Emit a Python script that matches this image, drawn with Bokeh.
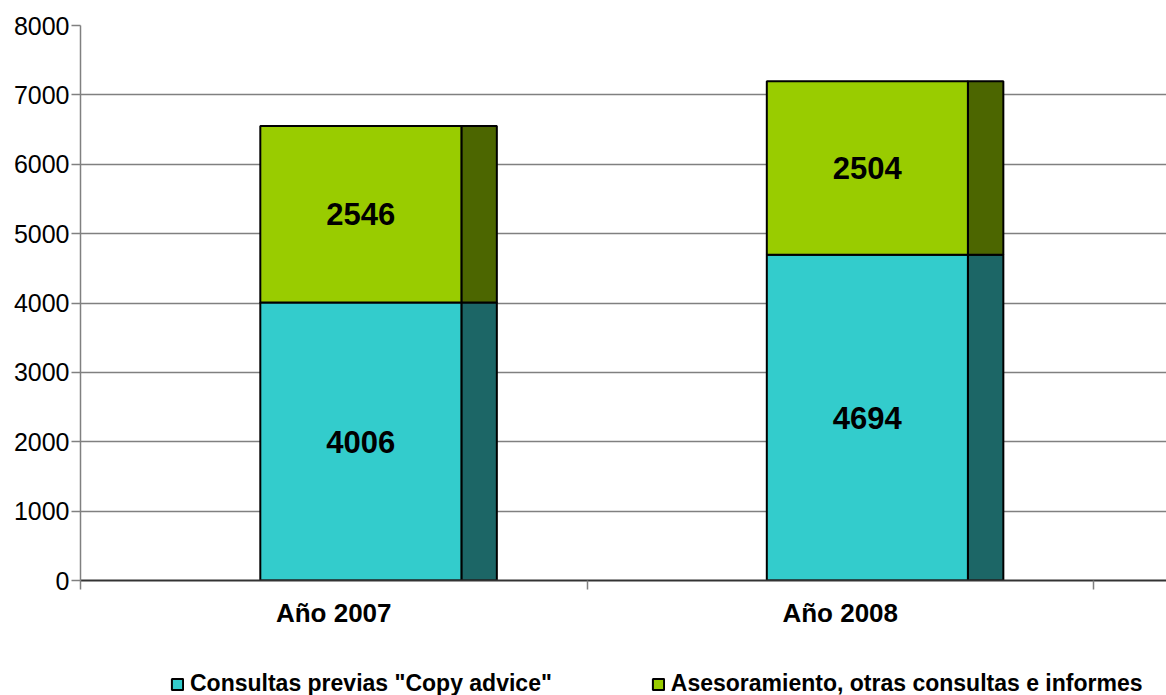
from bokeh.plotting import figure
from bokeh.layouts import column
from bokeh.models import Range1d, FixedTicker, Legend, LegendItem, ColumnDataSource
from bokeh.core.properties import value
from bokeh.embed import file_html
from bokeh.resources import INLINE

# Data
categories = ["Año 2007", "Año 2008"]
consultas = [4006, 4694]
asesoramiento = [2546, 2504]
series_names = ['Consultas previas "Copy advice"', "Asesoramiento, otras consultas e informes"]
y_ticks = [0, 1000, 2000, 3000, 4000, 5000, 6000, 7000, 8000]

FONT = "Liberation Sans"
front_colors = ["#33CCCC", "#99CC00"]
side_colors = ["#1C6666", "#4C6600"]

# bar geometry inside each category slot (slot width = 1)
FRONT_L, FRONT_R, SIDE_R = 0.355, 0.752, 0.822

p = figure(width=1166, height=640, output_backend="svg", toolbar_location=None,
           x_range=Range1d(0, 1086 / 506.5), y_range=Range1d(0, 8000),
           min_border_left=80, min_border_right=0, min_border_top=25, min_border_bottom=60)
p.outline_line_color = None
p.background_fill_color = "white"
p.border_fill_color = "white"

idx = list(range(len(categories)))
bottoms = [[0] * len(idx), consultas]
tops = [consultas, [c + a for c, a in zip(consultas, asesoramiento)]]
values = [consultas, asesoramiento]

for s in range(2):
    src = ColumnDataSource(dict(
        fl=[i + FRONT_L for i in idx], fr=[i + FRONT_R for i in idx], sr=[i + SIDE_R for i in idx],
        b=bottoms[s], t=tops[s],
        mid=[b + v / 2 for b, v in zip(bottoms[s], values[s])],
        xc=[i + (FRONT_L + FRONT_R) / 2 for i in idx],
        lab=[str(v) for v in values[s]],
    ))
    p.quad(left="sr", right="fr", bottom="b", top="t", source=src,
           fill_color=side_colors[s], line_color="black", line_width=2)
    p.quad(left="fl", right="fr", bottom="b", top="t", source=src,
           fill_color=front_colors[s], line_color="black", line_width=2)
    p.text(x="xc", y="mid", text="lab", source=src, text_font=value(FONT),
           text_font_style="bold", text_font_size="31px", text_color="black",
           text_align="center", text_baseline="middle")

# grid
p.xgrid.visible = False
p.ygrid.ticker = FixedTicker(ticks=y_ticks)
p.ygrid.grid_line_color = "#808080"
p.ygrid.grid_line_width = 1.5

# y axis
p.yaxis.ticker = FixedTicker(ticks=y_ticks)
p.yaxis.axis_line_color = "#808080"
p.yaxis.axis_line_width = 1.5
p.yaxis.major_tick_line_color = "#808080"
p.yaxis.major_tick_line_width = 1.5
p.yaxis.major_tick_out = 9
p.yaxis.major_tick_in = 0
p.yaxis.minor_tick_line_color = None
p.yaxis.major_label_standoff = 2
p.yaxis.major_label_text_font = FONT
p.yaxis.major_label_text_font_size = "25px"
p.yaxis.major_label_text_color = "black"

# x axis: labels centred in slots, ticks at slot boundaries
p.xaxis.ticker = FixedTicker(ticks=[i + 0.5 for i in idx], minor_ticks=list(range(len(idx) + 1)))
p.xaxis.major_label_overrides = {i + 0.5: c for i, c in zip(idx, categories)}
p.xaxis.axis_line_color = "#333333"
p.xaxis.axis_line_width = 2
p.xaxis.major_tick_line_color = None
p.xaxis.major_tick_out = 0
p.xaxis.major_tick_in = 0
p.xaxis.minor_tick_line_color = "#808080"
p.xaxis.minor_tick_line_width = 1.5
p.xaxis.minor_tick_out = 9
p.xaxis.minor_tick_in = 0
p.xaxis.major_label_standoff = 8
p.xaxis.major_label_text_font = FONT
p.xaxis.major_label_text_font_style = "bold"
p.xaxis.major_label_text_font_size = "26px"
p.xaxis.major_label_text_color = "black"

# legend strip under the chart (its frame lines up with the chart frame)
lf = figure(width=1166, height=55, output_backend="svg", toolbar_location=None,
            x_axis_type=None, y_axis_type=None, x_range=Range1d(0, 1), y_range=Range1d(0, 1),
            min_border=0)
lf.outline_line_color = None
lf.xgrid.visible = False
lf.ygrid.visible = False
nan = float("nan")
swatch = ColumnDataSource(dict(l=[nan], r=[nan], b=[nan], t=[nan]))
legend_items = []
for s in range(2):
    r = lf.quad(left="l", right="r", bottom="b", top="t", source=swatch,
                fill_color=front_colors[s], line_color="black", line_width=2)
    legend_items.append(LegendItem(label=series_names[s], renderers=[r], index=0))

legend = Legend(items=legend_items, orientation="horizontal", location=(90, -2),
                glyph_width=14, glyph_height=14, label_standoff=6, spacing=99,
                padding=0, margin=0, border_line_color=None, background_fill_alpha=0,
                label_text_font=FONT, label_text_font_style="bold",
                label_text_font_size="23px", label_text_color="black")
lf.add_layout(legend, "center")

open("out.html", "w").write(file_html(column(p, lf, spacing=0), INLINE))
